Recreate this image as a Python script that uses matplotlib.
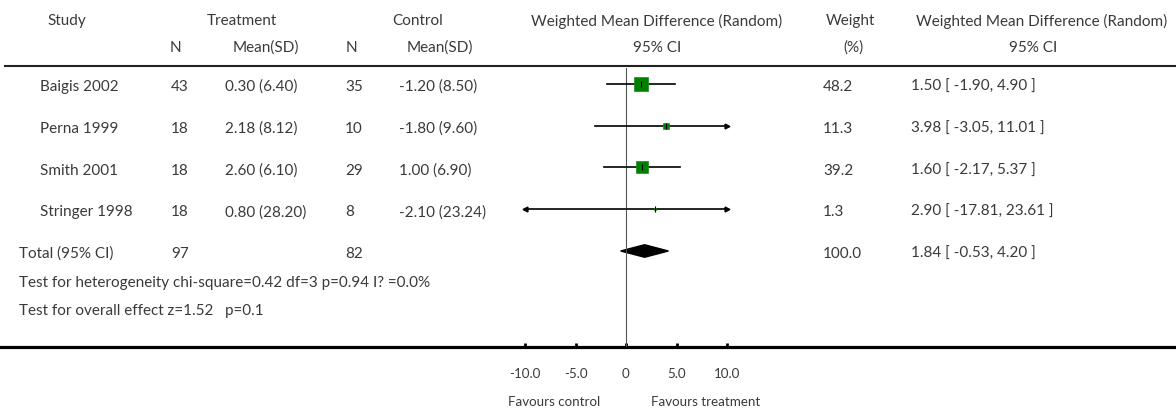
import numpy as np
import matplotlib
matplotlib.use('Agg')
import matplotlib.pyplot as plt

# data
studies = ['Baigis 2002', 'Perna 1999', 'Smith 2001', 'Stringer 1998']
n_treat = [43, 18, 18, 18]
mean_treat = ['0.30 (6.40)', '2.18 (8.12)', '2.60 (6.10)', '0.80 (28.20)']
n_ctrl = [35, 10, 29, 8]
mean_ctrl = ['-1.20 (8.50)', '-1.80 (9.60)', '1.00 (6.90)', '-2.10 (23.24)']
wmd = [1.50, 3.98, 1.60, 2.90]
ci_lo = [-1.90, -3.05, -2.17, -17.81]
ci_hi = [4.90, 11.01, 5.37, 23.61]
weights = [48.2, 11.3, 39.2, 1.3]

total_n_treat = 97
total_n_ctrl = 82
total_wmd = 1.84
total_lo = -0.53
total_hi = 4.20
total_weight = 100.0

het_text = 'Test for heterogeneity chi-square=0.42 df=3 p=0.94 I? =0.0%'
eff_text = 'Test for overall effect z=1.52   p=0.1'

xticks = [-10, -5, 0, 5, 10]
xtick_labels = ['-10.0', '-5.0', '0', '5.0', '10.0']

plt.rcParams['font.family'] = ['Lato', 'DejaVu Sans']
fs = 11
fs_ax = 9.6
tc = '#3a3a3a'

W, H = 1176, 412
fig = plt.figure(figsize=(W / 100, H / 100), dpi=100)

# table layer in pixel coordinates
ax = fig.add_axes([0, 0, 1, 1])
ax.set_xlim(0, W)
ax.set_ylim(H, 0)
ax.axis('off')

row0, dy = 84, 41.75
def row_y(i):
    return row0 + dy * i + 3

# headers
hdr1 = 21
hdr2 = 48
for x, s in [(67, 'Study'), (242, 'Treatment'), (418, 'Control'),
             (657, 'Weighted Mean Difference (Random)'), (850, 'Weight'),
             (1042, 'Weighted Mean Difference (Random)')]:
    ax.text(x, hdr1, s, ha='center', va='center', fontsize=fs, color=tc)
for x, s in [(175, 'N'), (266, 'Mean(SD)'), (351, 'N'), (440, 'Mean(SD)'),
             (657, '95% CI'), (853, '(%)'), (1033, '95% CI')]:
    ax.text(x, hdr2, s, ha='center', va='center', fontsize=fs, color=tc)

ax.axhline(66, xmin=5 / W, xmax=1, color='#222222', lw=1.5)
ax.axhline(347, xmin=0, xmax=1, color='black', lw=2.3)

# study rows
for i, s in enumerate(studies):
    y = row_y(i)
    ax.text(40, y, s, va='center', fontsize=fs, color=tc)
    ax.text(171, y, str(n_treat[i]), va='center', fontsize=fs, color=tc)
    ax.text(225, y, mean_treat[i], va='center', fontsize=fs, color=tc)
    ax.text(345, y, str(n_ctrl[i]), va='center', fontsize=fs, color=tc)
    ax.text(399, y, mean_ctrl[i], va='center', fontsize=fs, color=tc)
    ax.text(823, y, f'{weights[i]:.1f}', va='center', fontsize=fs, color=tc)
    ax.text(911, y, f'{wmd[i]:.2f} [ {ci_lo[i]:.2f}, {ci_hi[i]:.2f} ]',
            va='center', fontsize=fs, color=tc)

yt = row_y(4)
ax.text(19, yt, 'Total (95% CI)', va='center', fontsize=fs, color=tc)
ax.text(171, yt, str(total_n_treat), va='center', fontsize=fs, color=tc)
ax.text(345, yt, str(total_n_ctrl), va='center', fontsize=fs, color=tc)
ax.text(823, yt, f'{total_weight:.1f}', va='center', fontsize=fs, color=tc)
ax.text(911, yt, f'{total_wmd:.2f} [ {total_lo:.2f}, {total_hi:.2f} ]',
        va='center', fontsize=fs, color=tc)
ax.text(19, 283, het_text, va='center', fontsize=fs, color=tc)
ax.text(19, 311, eff_text, va='center', fontsize=fs, color=tc)

ax.text(554, 402, 'Favours control', ha='center', va='center', fontsize=fs_ax, color=tc)
ax.text(706, 402, 'Favours treatment', ha='center', va='center', fontsize=fs_ax, color=tc)

# forest plot
x0, x1 = 525, 727
ytop, ybot = 68, 347
axf = fig.add_axes([x0 / W, (H - ybot) / H, (x1 - x0) / W, (ybot - ytop) / H])
axf.set_xlim(-10, 10)
axf.set_ylim((ybot - row0) / dy, (ytop - row0) / dy)
axf.patch.set_alpha(0)
for sp in axf.spines.values():
    sp.set_visible(False)
axf.set_yticks([])
axf.set_xticks(xticks)
axf.set_xticklabels(xtick_labels, fontsize=fs_ax, color=tc)
axf.tick_params(axis='x', direction='in', length=3, width=2, pad=15, color='black')

axf.axvline(0, color='#555555', lw=0.8)

for i in range(len(studies)):
    lo = max(ci_lo[i], -10)
    hi = min(ci_hi[i], 10)
    axf.plot([lo, hi], [i, i], color='black', lw=1.2, clip_on=False)
    if ci_lo[i] < -10:
        axf.plot(-10, i, marker='<', color='black', ms=3.5, clip_on=False)
    if ci_hi[i] > 10:
        axf.plot(10, i, marker='>', color='black', ms=3.5, clip_on=False)
    axf.plot(wmd[i], i, marker='s', ms=1.45 * np.sqrt(weights[i]),
             color='#008000', mec='#1a8a1a', mew=0.5, clip_on=False)
    axf.plot(wmd[i], i, marker='|', ms=4, color='black', mew=0.8, clip_on=False)

h = 0.15
axf.fill([total_lo, total_wmd, total_hi, total_wmd], [4, 4 - h, 4, 4 + h],
         color='black', clip_on=False)

fig.savefig('out.png', dpi=100)
